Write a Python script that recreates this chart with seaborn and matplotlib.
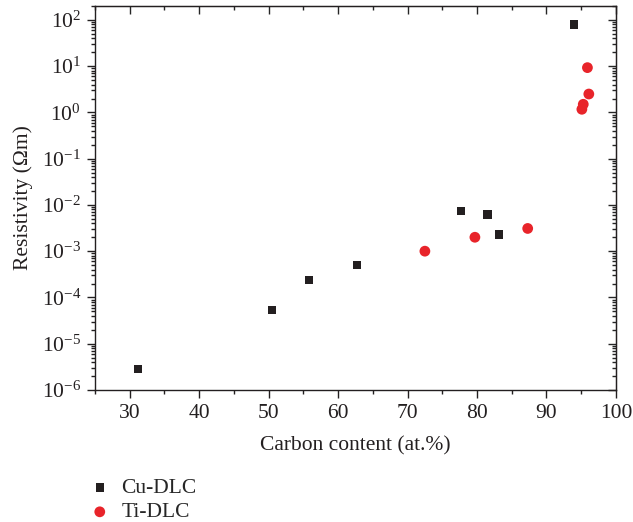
import pandas as pd
import seaborn as sns
import matplotlib.pyplot as plt
from matplotlib.ticker import LogLocator, MultipleLocator, NullFormatter

# Cu-DLC (black squares)
cu_carbon = [31.2, 50.5, 55.8, 62.7, 77.7, 81.5, 83.2, 94.0]
cu_resistivity = [2.8e-6, 5.4e-5, 2.4e-4, 5.0e-4, 7.5e-3, 6.2e-3, 2.3e-3, 80.0]

# Ti-DLC (red circles)
ti_carbon = [72.5, 79.7, 87.3, 95.9, 96.1, 95.3, 95.1]
ti_resistivity = [1.0e-3, 2.0e-3, 3.1e-3, 9.3, 2.5, 1.5, 1.17]

series_names = ['Cu-DLC', 'Ti-DLC']


def main():
    df = pd.DataFrame({
        'carbon': cu_carbon + ti_carbon,
        'resistivity': cu_resistivity + ti_resistivity,
        'film': [series_names[0]] * len(cu_carbon) + [series_names[1]] * len(ti_carbon),
    })

    sns.set_style('ticks')
    plt.rcParams['font.family'] = ['Liberation Serif', 'DejaVu Serif']
    plt.rcParams['mathtext.fontset'] = 'stix'

    fig = plt.figure(figsize=(6.33, 5.22), dpi=100)
    ax = fig.add_axes([0.150, 0.253, 0.823, 0.7355])

    palette = {'Cu-DLC': '#231f20', 'Ti-DLC': '#e8242a'}
    markers = {'Cu-DLC': 's', 'Ti-DLC': 'o'}
    for name in series_names:
        sub = df[df['film'] == name]
        sns.scatterplot(data=sub, x='carbon', y='resistivity', ax=ax,
                        color=palette[name], marker=markers[name],
                        s=48 if name == 'Cu-DLC' else 70,
                        edgecolor='none', label=name, legend=False)

    ax.set_yscale('log')
    ax.set_xlim(25, 100)
    ax.set_ylim(1e-6, 2e2)
    ax.xaxis.set_major_locator(MultipleLocator(10))
    ax.xaxis.set_minor_locator(MultipleLocator(5))
    ax.yaxis.set_major_locator(LogLocator(base=10, numticks=20))
    ax.yaxis.set_minor_locator(LogLocator(base=10, subs=range(2, 10), numticks=20))
    ax.yaxis.set_minor_formatter(NullFormatter())

    for s in ax.spines.values():
        s.set_visible(True)
        s.set_linewidth(1.0)
        s.set_color('#231f20')

    ax.tick_params(which='major', direction='out', length=6, width=1, labelsize=15.5, colors='#231f20', pad=4)
    ax.tick_params(which='minor', direction='out', length=3, width=1, colors='#231f20')

    # mirrored ticks on top and right, pointing in
    top = ax.secondary_xaxis('top')
    top.xaxis.set_major_locator(MultipleLocator(10))
    top.xaxis.set_minor_locator(MultipleLocator(5))
    top.tick_params(which='major', direction='in', length=6, width=1, labeltop=False)
    top.tick_params(which='minor', direction='in', length=3, width=1)
    right = ax.secondary_yaxis('right')
    right.yaxis.set_major_locator(LogLocator(base=10, numticks=20))
    right.yaxis.set_minor_locator(LogLocator(base=10, subs=range(2, 10), numticks=20))
    right.tick_params(which='major', direction='in', length=6, width=1, labelright=False)
    right.tick_params(which='minor', direction='in', length=3, width=1, labelright=False)

    ax.set_xlabel('Carbon content (at.%)', fontsize=15.5, color='#231f20', labelpad=10)
    ax.set_ylabel('Resistivity (Ωm)', fontsize=15.5, color='#231f20', labelpad=6)

    handles, labels = ax.get_legend_handles_labels()
    handles[0].set_sizes([36])
    handles[1].set_sizes([60])
    fig.legend(handles, labels, loc='lower left', bbox_to_anchor=(0.11, -0.038),
               frameon=False, fontsize=15.5, handletextpad=0.5, labelspacing=0.2,
               handlelength=1.0)

    fig.savefig('out.png', dpi=100)


if __name__ == '__main__':
    main()
